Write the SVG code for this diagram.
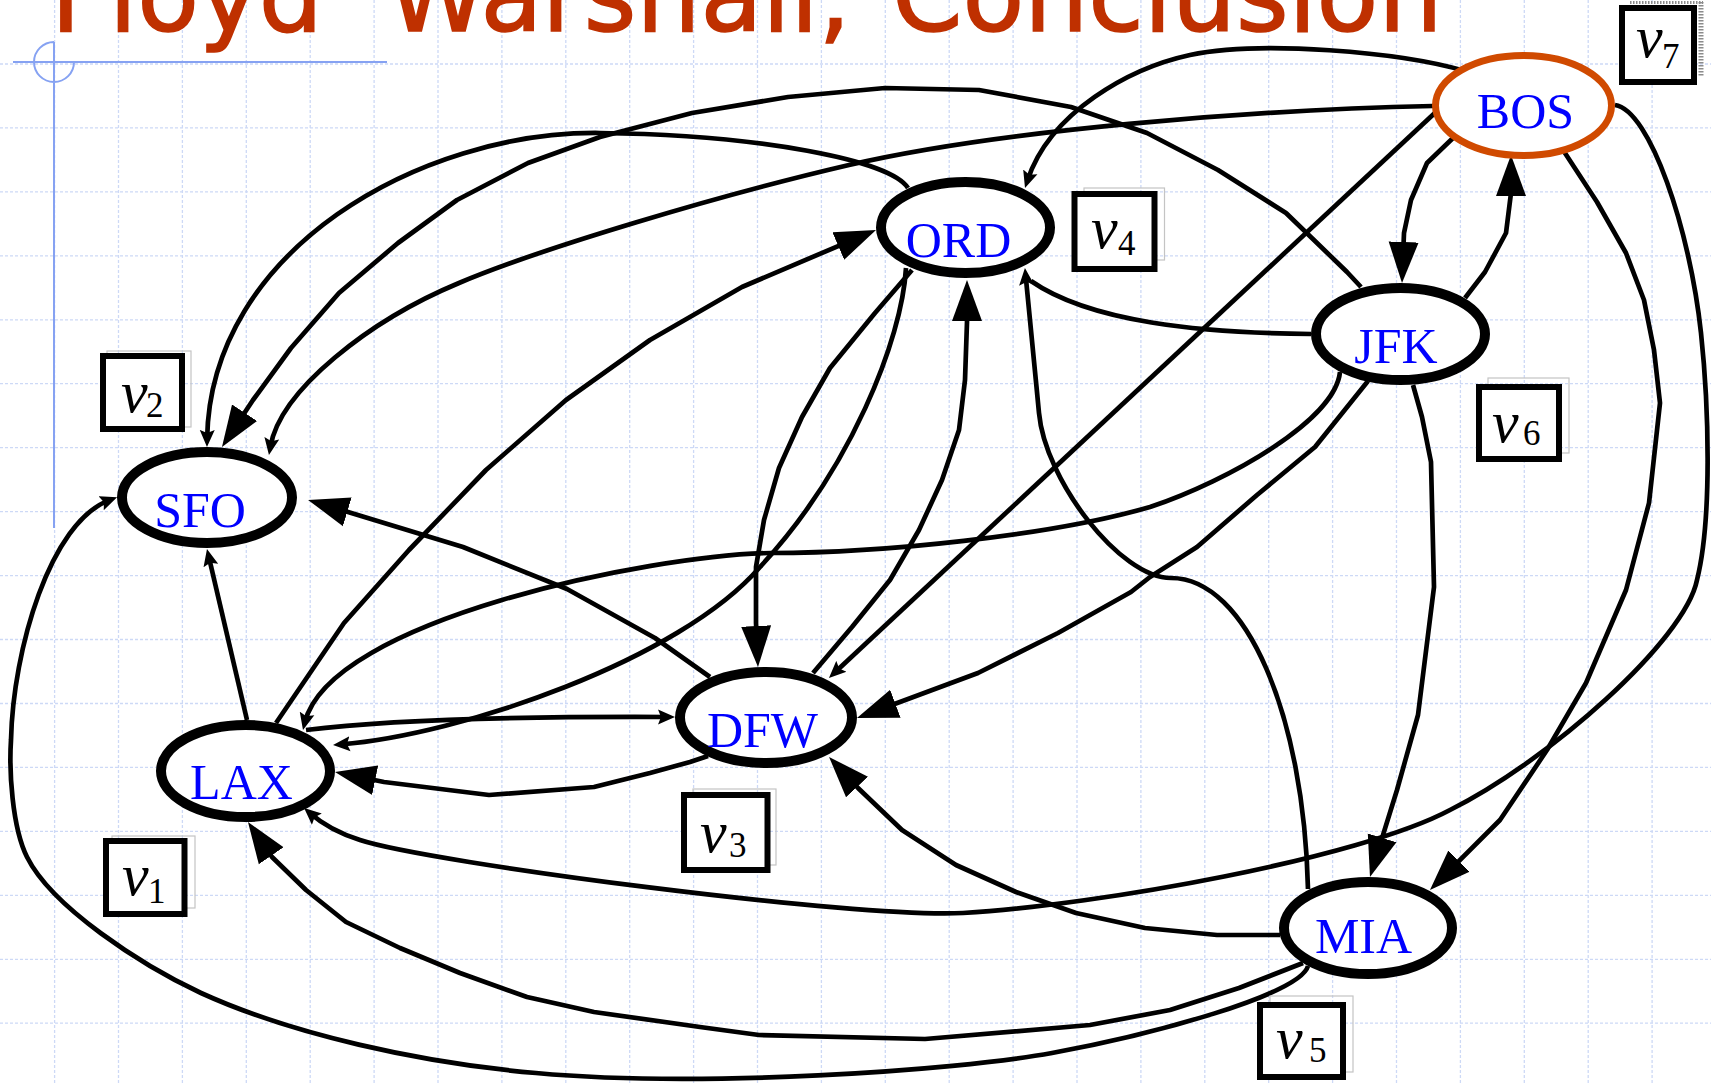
<svg xmlns="http://www.w3.org/2000/svg" width="1711" height="1084" viewBox="0 0 1711 1084">
<defs>
<style>
.bg{fill:#fff}
.grid{fill:none;stroke:#cdd9f6;stroke-width:1.3;stroke-dasharray:3 2}
.guide{fill:none;stroke:#86a2f2;stroke-width:2}
.title{font-family:"DejaVu Sans",Verdana,sans-serif;font-size:101px;fill:#bf3000;stroke:#bf3000;stroke-width:1.6}
.edge{fill:none;stroke:#000;stroke-width:4.7;stroke-linejoin:round}
.sm{marker-end:url(#sm)}
.lg{marker-end:url(#lg)}
.node ellipse{fill:#fff;stroke:#000;stroke-width:10}
#BOS ellipse{stroke:#d04a00;stroke-width:7}
.node text{font-family:"Liberation Serif","Times New Roman",serif;font-size:50px;fill:#0000ff;text-anchor:middle}
.frame{fill:none;stroke:#c4c4c4;stroke-width:1.2}
.box{fill:#fff;stroke:#000;stroke-width:6}
.lbl text{font-family:"Liberation Serif","Times New Roman",serif;fill:#000}
.vi{font-style:italic;font-size:60px}
.sub{font-size:35px}
.dots{fill:none;stroke:#8c8c8c;stroke-dasharray:1.5 1.5}
</style>
<marker id="sm" markerUnits="userSpaceOnUse" viewBox="0 -8 18 16" markerWidth="18" markerHeight="16" refX="9" refY="0" orient="auto"><path d="M0,-7.5L17,0L0,7.5L3,0Z"/></marker>
<marker id="lg" markerUnits="userSpaceOnUse" viewBox="0 -16 42 32" markerWidth="42" markerHeight="32" refX="21" refY="0" orient="auto"><path d="M0,-15L41,0L0,15Z"/></marker>
</defs>

<rect class="bg" x="0" y="0" width="1711" height="1084"/>

<!-- dashed background grid -->
<path class="grid" d="M54.6,0V1084M118.5,0V1084M182.4,0V1084M246.3,0V1084M310.2,0V1084M374.1,0V1084M438,0V1084M501.9,0V1084M565.8,0V1084M629.7,0V1084M693.6,0V1084M757.5,0V1084M821.4,0V1084M885.3,0V1084M949.2,0V1084M1013.1,0V1084M1077,0V1084M1140.9,0V1084M1204.8,0V1084M1268.7,0V1084M1332.6,0V1084M1396.5,0V1084M1460.4,0V1084M1524.3,0V1084M1588.2,0V1084M1652.1,0V1084"/>
<path class="grid" d="M0,64H1711M0,127.9H1711M0,191.9H1711M0,255.8H1711M0,319.8H1711M0,383.7H1711M0,447.7H1711M0,511.6H1711M0,575.6H1711M0,639.5H1711M0,703.5H1711M0,767.4H1711M0,831.4H1711M0,895.3H1711M0,959.3H1711M0,1023.2H1711"/>

<!-- slide guides -->
<path class="guide" d="M13,62H387M54,42V528M54,42A20,20 0 1,0 74,62"/>

<!-- title -->
<text class="title" y="31"><tspan x="51">Floyd</tspan><tspan dy="-45">-</tspan><tspan x="387" dy="45">Warshall, </tspan><tspan x="892">Conclusion</tspan></text>

<!-- connectors -->
<g id="connectors">
<path id="e-BOS-ORD" class="edge sm" d="M1465,71C1400,52 1260,40 1190,55C1130,68 1050,112 1027.5,180.4"/>
<path id="e-ORD-SFO" class="edge sm" d="M908,188C890,160 760,135 600,133C420,131 210,250 207.1,439"/>
<path id="e-JFK-SFO" class="edge lg" d="M1361,287L1347,272L1286,213L1218,170L1147,133L1071,107L979,90L885,88L788,97L692,113L600,137L528,163L457,200L398,243L339,293L291,348L253,400L233,430.3"/>
<path id="e-BOS-SFO" class="edge sm" d="M1433,106C1250,110 1000,130 849,165C720,195 539,249 459,283C370,320 280,390 270.3,447.1"/>
<path id="e-LAX-ORD" class="edge lg" d="M276,723L344,623L409,550L486,470L566,400L650,340L742,287L857.6,237.8"/>
<path id="e-ORD-DFW" class="edge lg" d="M912,270L875,313L830,368L802,417L779,468L764,520L756,567L756,623L757.1,647"/>
<path id="e-DFW-ORD" class="edge lg" d="M813,673L852,627L890,580L919,530L942,480L959,430L965,380L967,322L967,300"/>
<path id="e-ORD-LAX" class="edge sm" d="M906,268C902,340 850,470 760,567C680,660 460,735 341,744.4"/>
<path id="e-JFK-LAX" class="edge sm" d="M1340,372C1335,420 1230,480 1150,507C1050,536 880,553 771,553C650,555 330,620 304.9,722.2"/>
<path id="e-LAX-DFW" class="edge sm" d="M306,730Q420,716 667,717"/>
<path id="e-DFW-LAX" class="edge lg" d="M708,756L690,762L650,773L594,787L489,795L384,782L354.6,776"/>
<path id="e-DFW-SFO" class="edge lg" d="M710,677L655,638L567,589L463,547L348,512L327.2,505.7"/>
<path id="e-LAX-SFO" class="edge sm" d="M247,720L208.8,556.8"/>
<path id="e-MIA-SFO" class="edge sm" d="M1308,966C1300,995 1150,1035 1052,1053C952,1071 700,1088 536,1073C420,1063 291,1034 201,993C141,965 52,907 27,857C12,827 9,770 11,740C13,650 50,522 109.6,500.1"/>
<path id="e-MIA-LAX" class="edge lg" d="M1303,963L1239,988L1170,1010L1090,1025L925,1039L759,1035L700,1027L594,1012L527,997L460,973L400,948L346,922L306,890L272,857L259.3,838.5"/>
<path id="e-MIA-DFW" class="edge lg" d="M1280,935L1217,935L1145,928L1076,913L1016,892L956,865L902,830L858,788L842.7,771.6"/>
<path id="e-BOS-LAX" class="edge sm" d="M1615,105C1650,110 1690,230 1701,333C1709,408 1712,520 1697,580C1685,640 1550,760 1450,810C1360,858 1100,905 963,913C860,919 430,863 360,840C335,832 319,821 310.1,813.2"/>
<path id="e-BOS-MIA" class="edge lg" d="M1563,150L1597,202L1626,253L1644,300L1654,350L1660,403L1649,503L1626,590L1586,683L1547,750L1500,820L1444.1,875.9"/>
<path id="e-JFK-MIA" class="edge lg" d="M1413,385L1422,417L1431,462L1434,587L1418,715L1397,790L1375.9,857.9"/>
<path id="e-BOS-DFW" class="edge sm" d="M1438,110L834.8,672.5"/>
<path id="e-JFK-DFW" class="edge lg" d="M1368,381L1315,447L1257,495L1197,547L1150,577L1131,592L1058,633L978,673L875.7,711"/>
<path id="e-MIA-ORD" class="edge sm" d="M1308,889C1304,716 1246.6,578 1171,578C1120,578 1045,480 1039,413C1034,360 1028,300 1025.7,276"/>
<path id="e-JFK-ORD" class="edge" d="M1311,334C1200,333 1090,322 1031,281"/>
<path id="e-BOS-JFK" class="edge lg" d="M1453,138L1427,163L1411,200L1404,233L1402.8,263"/>
<path id="e-JFK-BOS" class="edge lg" d="M1465,298L1485,272L1506,233L1511,193L1511,175"/>
</g>

<!-- airports -->
<g id="SFO" class="node"><ellipse cx="207" cy="497.5" rx="85" ry="45.5"/><text x="200" y="527">SFO</text></g>
<g id="ORD" class="node"><ellipse cx="965.5" cy="227.5" rx="84.5" ry="45.5"/><text x="958.5" y="257">ORD</text></g>
<g id="JFK" class="node"><ellipse cx="1400.5" cy="334" rx="84.5" ry="46"/><text x="1396" y="363">JFK</text></g>
<g id="BOS" class="node"><ellipse cx="1523.5" cy="105.5" rx="88" ry="50"/><text x="1525.5" y="128">BOS</text></g>
<g id="DFW" class="node"><ellipse cx="766" cy="717.5" rx="86" ry="45.5"/><text x="762.5" y="747">DFW</text></g>
<g id="LAX" class="node"><ellipse cx="245.5" cy="771" rx="84.5" ry="46"/><text x="241.5" y="799">LAX</text></g>
<g id="MIA" class="node"><ellipse cx="1368" cy="928" rx="84" ry="46"/><text x="1363.5" y="953">MIA</text></g>

<!-- vertex index labels -->
<g id="lbl-v1" class="lbl"><rect class="frame" x="112" y="836" width="83" height="72"/><rect class="box" x="106" y="841" width="78.5" height="73"/><text><tspan class="vi" x="122" y="895">v</tspan><tspan class="sub" x="148" y="903">1</tspan></text></g>
<g id="lbl-v2" class="lbl"><rect class="frame" x="107" y="351" width="84" height="76"/><rect class="box" x="103" y="356" width="79" height="73"/><text><tspan class="vi" x="121" y="412">v</tspan><tspan class="sub" x="146" y="417">2</tspan></text></g>
<g id="lbl-v3" class="lbl"><rect class="frame" x="693" y="789" width="83" height="76"/><rect class="box" x="684" y="795" width="83.5" height="75"/><text><tspan class="vi" x="700" y="852">v</tspan><tspan class="sub" x="729" y="857">3</tspan></text></g>
<g id="lbl-v4" class="lbl"><rect class="frame" x="1084" y="188" width="80.5" height="72"/><rect class="box" x="1074.5" y="194" width="80" height="75"/><text><tspan class="vi" x="1091" y="248">v</tspan><tspan class="sub" x="1118" y="255">4</tspan></text></g>
<g id="lbl-v5" class="lbl"><rect class="frame" x="1270" y="996" width="83" height="76"/><rect class="box" x="1260" y="1005" width="83" height="72"/><text><tspan class="vi" x="1276" y="1058">v</tspan><tspan class="sub" x="1309" y="1062">5</tspan></text></g>
<g id="lbl-v6" class="lbl"><rect class="frame" x="1488" y="378" width="81" height="75"/><rect class="box" x="1479" y="387" width="80" height="72"/><text><tspan class="vi" x="1492" y="442">v</tspan><tspan class="sub" x="1523" y="445">6</tspan></text></g>
<g id="lbl-v7" class="lbl"><path class="dots" stroke-width="3" d="M1630,2.5H1703"/><path class="dots" stroke-width="5" d="M1701,2V77"/><rect class="box" x="1622" y="8" width="72" height="74"/><text><tspan class="vi" x="1636" y="57">v</tspan><tspan class="sub" x="1662" y="68">7</tspan></text></g>
</svg>
